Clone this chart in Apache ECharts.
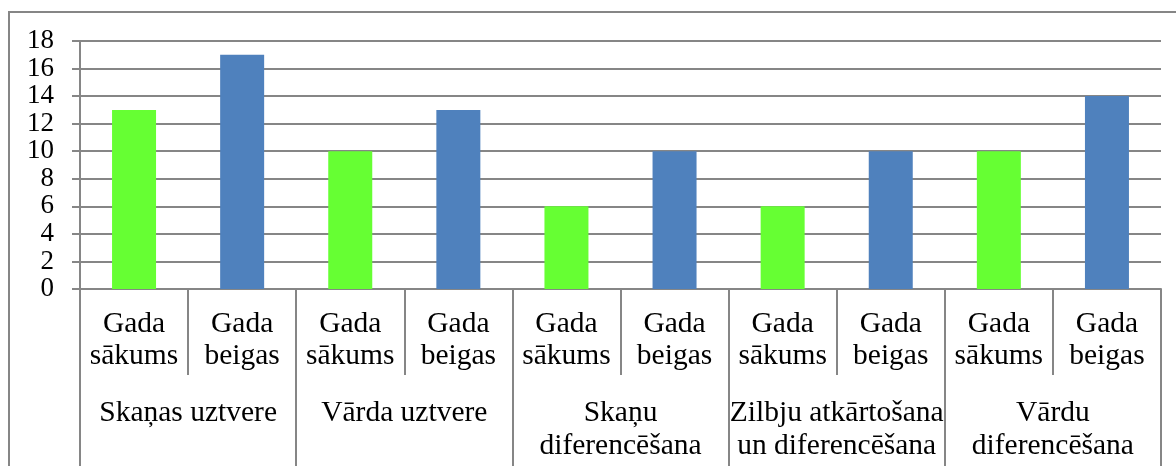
<!DOCTYPE html>
<html>
<head>
<meta charset="utf-8">
<script src="https://cdn.jsdelivr.net/npm/echarts@6/dist/echarts.min.js"></script>
<style>
html,body{margin:0;padding:0;background:#fff;}
#chart{width:1176px;height:466px;}
</style>
</head>
<body>
<div id="chart"></div>
<script>
const groupNames = ["Skaņas uztvere", "Vārda uztvere", "Skaņu\ndiferencēšana", "Zilbju atkārtošana\nun diferencēšana", "Vārdu\ndiferencēšana"];
const phaseLabels = ["Gada\nsākums", "Gada\nbeigas"];
const startValues = [13, 10, 6, 6, 10];
const endValues = [17, 13, 10, 10, 14];
const yTicks = { min: 0, max: 18, interval: 2 };
const phaseColors = ["#66FF33", "#4F81BD"];

const categories = [];
const barData = [];
groupNames.forEach((g, i) => {
  categories.push(phaseLabels[0]);
  barData.push({ value: startValues[i], itemStyle: { color: phaseColors[0] } });
  categories.push(phaseLabels[1]);
  barData.push({ value: endValues[i], itemStyle: { color: phaseColors[1] } });
});

const font = "Liberation Serif";
const gray = "#868686";

const chart = echarts.init(document.getElementById('chart'));
chart.setOption({
  animation: false,
  backgroundColor: '#fff',
  grid: { left: 80, right: 15, top: 41, bottom: 177, containLabel: false },
  graphic: [{
    type: 'rect', silent: true, z: -1,
    shape: { x: 9, y: 12, width: 1300, height: 600 },
    style: { fill: 'none', stroke: gray, lineWidth: 2 }
  }],
  xAxis: [{
    type: 'category',
    data: categories,
    position: 'bottom',
    axisLine: { show: true, lineStyle: { color: gray, width: 2 } },
    axisTick: { show: true, interval: 0, length: 86, lineStyle: { color: gray, width: 2 } },
    axisLabel: { interval: 0, margin: 19, color: '#000', fontFamily: font, fontSize: 29.5, lineHeight: 32 },
    splitLine: { show: false }
  }, {
    type: 'category',
    data: groupNames,
    position: 'bottom',
    axisLine: { show: false },
    axisTick: { show: true, interval: 0, length: 185, lineStyle: { color: gray, width: 2 } },
    axisLabel: { interval: 0, margin: 108, color: '#000', fontFamily: font, fontSize: 29.5, lineHeight: 33 },
    splitLine: { show: false }
  }],
  yAxis: {
    type: 'value',
    min: yTicks.min, max: yTicks.max, interval: yTicks.interval,
    axisLine: { show: true, lineStyle: { color: gray, width: 2 } },
    axisTick: { show: true, length: 8, lineStyle: { color: gray, width: 2 } },
    axisLabel: { margin: 26, color: '#000', fontFamily: font, fontSize: 27,
      showMinLabel: true, showMaxLabel: true },
    splitLine: { show: true, lineStyle: { color: gray, width: 2 } }
  },
  series: [{
    type: 'bar',
    xAxisIndex: 0,
    data: barData,
    barWidth: 44
  }]
});
</script>
</body>
</html>
